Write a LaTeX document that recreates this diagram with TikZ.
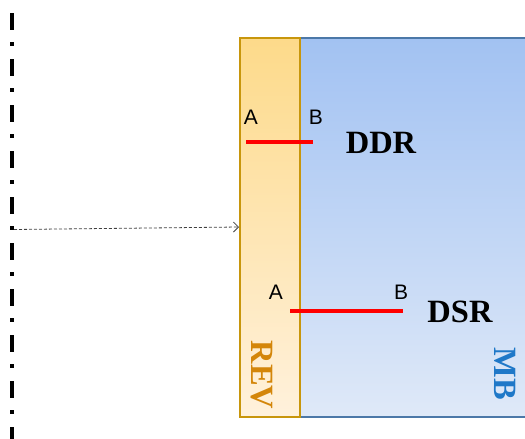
\documentclass[tikz,border=0pt]{standalone}
\usepackage{fontspec}
\setmainfont{Liberation Serif}
\setsansfont{Liberation Sans}
\usetikzlibrary{arrows.meta}
\definecolor{revborder}{HTML}{C8960C}
\definecolor{revtop}{HTML}{FDDA8A}
\definecolor{revbot}{HTML}{FFF1DC}
\definecolor{mbborder}{HTML}{4C78A8}
\definecolor{mbtop}{HTML}{A2C2F2}
\definecolor{mbbot}{HTML}{DFE9F8}
\definecolor{revtext}{HTML}{D4860A}
\definecolor{mbtext}{HTML}{1F78C8}
\definecolor{redline}{HTML}{FF0000}
\tikzset{
  revbox/.style={draw=revborder, line width=2.2pt, top color=revtop, bottom color=revbot, inner sep=0pt},
  mbbox/.style={draw=mbborder, line width=2.2pt, top color=mbtop, bottom color=mbbot, inner sep=0pt},
  redbar/.style={draw=redline, line width=4pt},
  ptlabel/.style={font=\sffamily\fontsize{21}{21}\selectfont, inner sep=0pt},
  biglabel/.style={font=\bfseries\fontsize{32.5}{32.5}\selectfont, inner sep=0pt},
  boundary/.style={line width=3.6pt, dash pattern=on 17pt off 12pt on 4pt off 13pt},
  pointer/.style={draw=black!75, line width=0.8pt, dash pattern=on 3pt off 2pt, -{Straight Barb[length=5pt,width=10pt]}}
}
\begin{document}
\begin{tikzpicture}[x=1pt,y=-1pt]
\useasboundingbox (0,0) rectangle (525,439);
\clip (0,0) rectangle (525,439);
% boundary line
\coordinate (bt) at (12,13);
\coordinate (bb) at (12,440);
\draw[boundary] (bt) -- (bb);
% boxes
\node[mbbox, minimum width=240pt, minimum height=379pt, anchor=north west] (mb) at (299,37) {};
\node[revbox, minimum width=60pt, minimum height=379pt, anchor=north west] (rev) at (239,37) {};
% rotated labels
\node[biglabel, text=revtext, rotate=-90] (revl) at (262,375) {REV};
\node[biglabel, text=mbtext, rotate=-90] (mbl) at (505,374) {MB};
% pointer
\coordinate (ps) at (14,229.5);
\coordinate (pe) at (239,227);
\draw[pointer] (ps) -- (pe);
% DDR
\coordinate (a1) at (246,142);
\coordinate (b1) at (313,142);
\draw[redbar] (a1) -- (b1);
\node[ptlabel] (la1) at (251,117) {A};
\node[ptlabel] (lb1) at (316,117) {B};
\node[biglabel] (ddr) at (381,143) {DDR};
% DSR
\coordinate (a2) at (290,311);
\coordinate (b2) at (403,311);
\draw[redbar] (a2) -- (b2);
\node[ptlabel] (la2) at (276,292) {A};
\node[ptlabel] (lb2) at (401,292) {B};
\node[biglabel] (dsr) at (460,312) {DSR};
\end{tikzpicture}
\end{document}
